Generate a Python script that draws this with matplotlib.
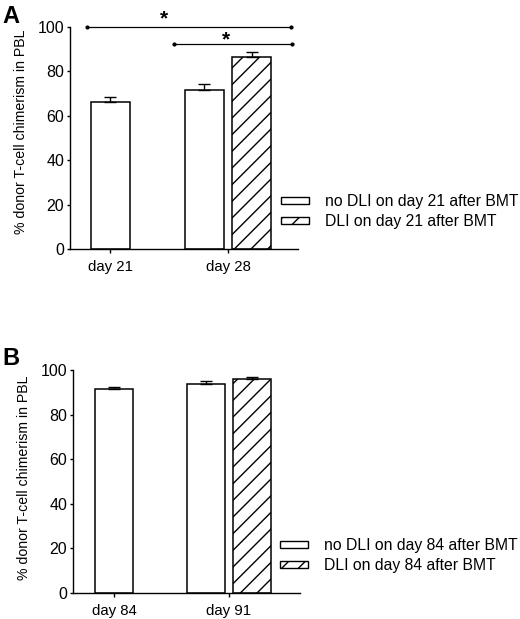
import numpy as np
import matplotlib
matplotlib.use("Agg")
import matplotlib.pyplot as plt
from matplotlib.patches import Patch

plt.rcParams['font.family'] = ['Liberation Sans', 'DejaVu Sans']
plt.rcParams['hatch.linewidth'] = 1.0

# Panel A data
a_days = ["day 21", "day 28"]
a_no_dli = [66.3, 71.6]
a_no_dli_err = [2.3, 2.6]
a_dli = [86.3]          # only measured on day 28
a_dli_err = [2.3]
a_legend = ["no DLI on day 21 after BMT", "DLI on day 21 after BMT"]

# Panel B data
b_days = ["day 84", "day 91"]
b_no_dli = [91.3, 93.6]
b_no_dli_err = [1.2, 1.6]
b_dli = [95.8]
b_dli_err = [1.2]
b_legend = ["no DLI on day 84 after BMT", "DLI on day 84 after BMT"]

ylabel = "% donor T-cell chimerism in PBL"


def draw_panel(ax, days, no_dli, no_err, dli, dli_err, labels, xlim, leg_x, lab_y):
    x = np.arange(len(days))
    width = 0.33
    off = 0.2
    # first group single bar, second group pair
    pos_no = [x[0], x[1] - off]
    pos_dli = [x[1] + off]
    ekw = dict(ecolor='black', elinewidth=1.0, capsize=4, capthick=1.0)
    ax.bar(pos_no, no_dli, width, color='white', edgecolor='black', linewidth=1.1,
           yerr=[np.zeros(len(no_err)), no_err], error_kw=ekw, zorder=2)
    ax.bar(pos_dli, dli, width, color='white', edgecolor='black', linewidth=1.1,
           hatch='//', yerr=[np.zeros(len(dli_err)), dli_err], error_kw=ekw, zorder=2)
    ax.set_xlim(*xlim)
    ax.set_ylim(0, 100)
    ax.set_xticks(x)
    ax.set_xticklabels(days, fontsize=10.8)
    ax.set_yticks([0, 20, 40, 60, 80, 100])
    ax.tick_params(axis='y', labelsize=11.5, direction='out', length=2.2, width=1, pad=2)
    ax.tick_params(axis='x', direction='out', length=3, width=1, pad=5)
    ax.spines['top'].set_visible(False)
    ax.spines['right'].set_visible(False)
    ax.spines['left'].set_linewidth(1)
    ax.spines['bottom'].set_linewidth(1)
    ax.set_ylabel(ylabel, fontsize=10.2)
    ax.yaxis.set_label_coords(-0.185, lab_y)
    handles = [Patch(facecolor='white', edgecolor='black', linewidth=1.0),
               Patch(facecolor='white', edgecolor='black', linewidth=1.0, hatch='//')]
    ax.legend(handles, labels, loc='center left', bbox_to_anchor=(leg_x, 0.168),
              frameon=False, fontsize=11.3, handlelength=1.8, handleheight=0.32,
              handletextpad=1.0, labelspacing=0.3, borderpad=0, borderaxespad=0)


fig = plt.figure(figsize=(5.2, 6.19), dpi=100)
axA = fig.add_axes([0.1346, 0.5977, 0.4385, 0.3587])
axB = fig.add_axes([0.1404, 0.0420, 0.4365, 0.3603])

draw_panel(axA, a_days, a_no_dli, a_no_dli_err, a_dli, a_dli_err, a_legend,
           (-0.34, 1.593), 0.925, 0.53)
draw_panel(axB, b_days, b_no_dli, b_no_dli_err, b_dli, b_dli_err, b_legend,
           (-0.357, 1.617), 0.91, 0.516)

# significance brackets in panel A
for x0, x1, y, sx, sy in [(-0.195, 1.534, 100, 0.46, 99.3), (0.54, 1.54, 92.5, 0.98, 89.9)]:
    axA.plot([x0, x1], [y, y], color='black', lw=0.9, marker='o', markersize=2,
             clip_on=False, zorder=3)
    axA.text(sx, sy, "*", ha='center', va='bottom', fontsize=15, fontweight='bold',
             clip_on=False)

fig.text(0.004, 0.992, "A", fontsize=17, fontweight='bold', va='top', ha='left')
fig.text(0.004, 0.44, "B", fontsize=17, fontweight='bold', va='top', ha='left')

fig.savefig("out.png", dpi=100)
